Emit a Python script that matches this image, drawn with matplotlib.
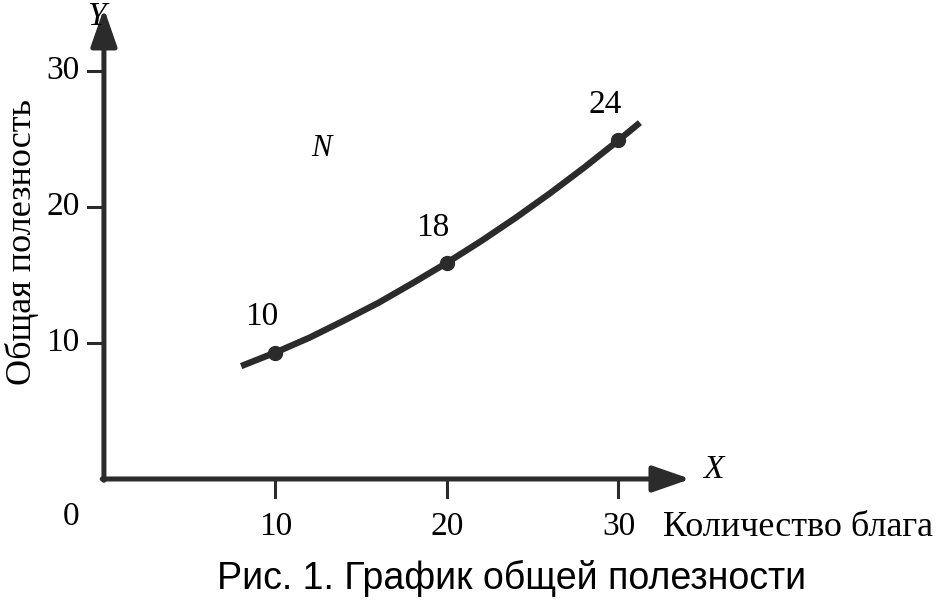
import matplotlib
matplotlib.use("Agg")
import matplotlib.pyplot as plt

curve_x = [8, 10, 12, 14, 16, 18, 20, 22, 24, 26, 28, 30, 31.25]
curve_y = [8.3, 9.3, 10.4, 11.65, 12.95, 14.4, 15.9, 17.5, 19.2, 21.0, 22.9, 24.9, 26.2]

mark_x = [10, 20, 30]
mark_y = [9.3, 15.9, 24.9]
mark_labels = ["10", "18", "24"]

x_ticks = [10, 20, 30]
y_ticks = [10, 20, 30]

serif = "Liberation Serif"
ink = "#2b2b2b"

fig = plt.figure(figsize=(9.44, 6.06), dpi=100)
ax = fig.add_axes([0, 0, 1, 1])
ax.set_xlim(-6.06, 48.98)
ax.set_ylim(-9.34, 35.22)
ax.axis("off")

# axes with arrows
arrow = dict(arrowstyle="-|>,head_length=2.3,head_width=0.8", lw=3.6,
             color=ink, shrinkA=0, shrinkB=0, mutation_scale=10)
ax.annotate("", xy=(34.2, 0), xytext=(-0.1, 0), arrowprops=arrow)
ax.annotate("", xy=(0, 34.6), xytext=(0, -0.1), arrowprops=arrow)

for t in x_ticks:
    ax.plot([t, t], [0, -1.3], color=ink, lw=2.2)
    ax.text(t, -3.5, str(t), family=serif, fontsize=24, ha="center", va="center")
for t in y_ticks:
    ax.plot([-0.95, 0], [t, t], color=ink, lw=2.2)
    ax.text(-2.4, t, str(t), family=serif, fontsize=24, ha="center", va="center")

ax.text(-1.9, -2.8, "0", family=serif, fontsize=24, ha="center", va="center")
ax.text(-0.45, 34.0, "Y", family=serif, style="italic", fontsize=24, ha="center", va="center")
ax.text(35.5, 0.65, "X", family=serif, style="italic", fontsize=24, ha="center", va="center")
ax.text(12.7, 24.3, "N", family=serif, style="italic", fontsize=22, ha="center", va="center")

# curve and marked points
ax.plot(curve_x, curve_y, color=ink, lw=4.6, solid_capstyle="butt")
ax.plot(mark_x, mark_y, "o", color=ink, ms=10)
for x, y, s in zip(mark_x, mark_y, mark_labels):
    ax.text(x - 0.8, y + 2.6, s, family=serif, fontsize=24, ha="center", va="center")

fig.text(0.702, 0.13, "Количество блага", family=serif,
         fontsize=26, ha="left", va="center")
fig.text(0.023, 0.60, "Общая полезность", family=serif, fontsize=26,
         rotation=90, ha="center", va="center")
fig.text(0.542, 0.046, "Рис. 1. График общей полезности",
         family=["Liberation Sans Narrow", "Liberation Sans"], fontsize=27,
         ha="center", va="center")

fig.savefig("out.png", dpi=100)
